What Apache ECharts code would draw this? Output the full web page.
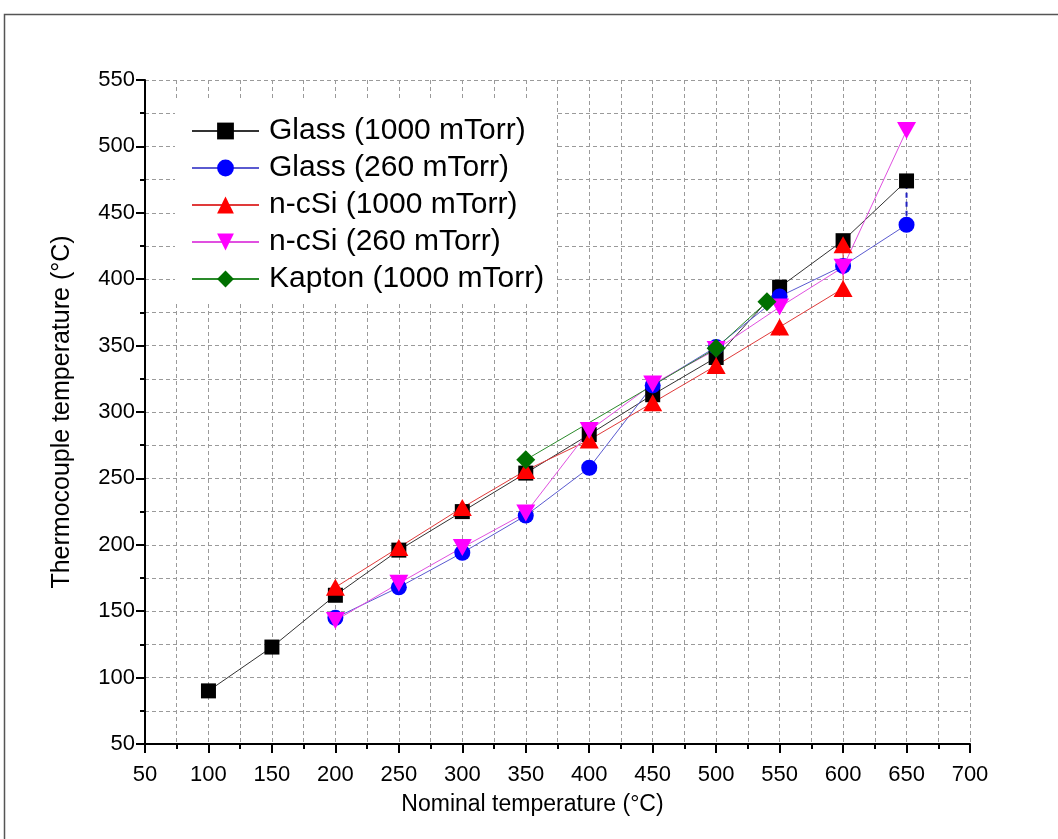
<!DOCTYPE html>
<html>
<head>
<meta charset="utf-8">
<script src="https://cdn.jsdelivr.net/npm/echarts@6/dist/echarts.min.js"></script>
<style>
  html, body { margin: 0; padding: 0; background: #fff; }
  #chart { width: 1058px; height: 839px; }
</style>
</head>
<body>
<div id="chart"></div>
<script>
// ---- Data ----
const glass1000X = [100, 150, 200, 250, 300, 350, 400, 450, 500, 550, 600, 650];
const glass1000Y = [90, 123, 162, 196, 225, 254, 283, 313, 341, 394, 429, 474];

const glass260X = [200, 250, 300, 350, 400, 450, 500, 550, 600, 650];
const glass260Y = [145, 168, 194, 222, 258, 320, 349, 387, 410, 441];
// short dashed connector drawn at 650 between the Glass (260) point and the Glass (1000) point
const glass260LinkX = [650, 650];
const glass260LinkY = [441, 474];

const ncsi1000X = [200, 250, 300, 350, 400, 450, 500, 550, 600, 600];
const ncsi1000Y = [168, 198, 228, 256, 279, 307, 335, 364, 393, 426];

const ncsi260X = [200, 250, 300, 350, 400, 450, 500, 550, 600, 650];
const ncsi260Y = [143, 171, 198, 224, 286, 321, 347, 379, 409, 512];

const kapton1000X = [350, 500, 540];
const kapton1000Y = [264, 348, 383];

const seriesNames = ['Glass (1000 mTorr)', 'Glass (260 mTorr)', 'n-cSi (1000 mTorr)', 'n-cSi (260 mTorr)', 'Kapton (1000 mTorr)'];
const xAxisTitle = 'Nominal temperature (\u00B0C)';
const yAxisTitle = 'Thermocouple temperature (\u00B0C)';

function pairs(xs, ys) { return xs.map((x, i) => [x, ys[i]]); }

const chart = echarts.init(document.getElementById('chart'), null, { renderer: 'canvas' });

const FONT = 'Liberation Sans, Arial, sans-serif';
const gridLine = { show: true, lineStyle: { color: '#9a9a9a', type: [4, 3], width: 1 } };
const axisFont = { fontFamily: FONT, fontSize: 22, color: '#000' };

const option = {
  backgroundColor: '#fff',
  animation: false,
  graphic: [{
    type: 'rect',
    shape: { x: 4.5, y: 14.5, width: 1200, height: 1000 },
    style: { fill: 'none', stroke: '#555', lineWidth: 1.5 },
    silent: true, z: 0
  }],
  grid: { left: 145, right: 88, top: 80, bottom: 95, containLabel: false },
  legend: {
    data: seriesNames,
    orient: 'vertical',
    left: 175,
    top: 100,
    padding: [16, 12, 10, 16],
    itemWidth: 67,
    itemHeight: 21,
    itemGap: 7,
    textStyle: { fontFamily: FONT, fontSize: 30, lineHeight: 25, color: '#000', padding: [2, 0, 0, 5] },
    backgroundColor: '#fff'
  },
  xAxis: {
    type: 'value', min: 50, max: 700, interval: 50,
    name: xAxisTitle, nameLocation: 'middle', nameGap: 49,
    nameTextStyle: { fontFamily: FONT, fontSize: 23, color: '#000', padding: [0, 50, 0, 0] },
    axisLine: { show: true, onZero: false, lineStyle: { color: '#000', width: 2 } },
    axisTick: { show: true, inside: false, length: 9, lineStyle: { color: '#000', width: 2 } },
    minorTick: { show: true, splitNumber: 2, length: 5, lineStyle: { color: '#000', width: 2 } },
    axisLabel: Object.assign({ margin: 20 }, axisFont),
    splitLine: gridLine,
    minorSplitLine: gridLine
  },
  yAxis: {
    type: 'value', min: 50, max: 550, interval: 50,
    name: yAxisTitle, nameLocation: 'middle', nameGap: 70, nameRotate: 90,
    nameTextStyle: { fontFamily: FONT, fontSize: 25, color: '#000' },
    axisLine: { show: true, onZero: false, lineStyle: { color: '#000', width: 2 } },
    axisTick: { show: true, inside: false, length: 9, lineStyle: { color: '#000', width: 2 } },
    minorTick: { show: true, splitNumber: 2, length: 5, lineStyle: { color: '#000', width: 2 } },
    axisLabel: Object.assign({ margin: 10 }, axisFont),
    splitLine: gridLine,
    minorSplitLine: gridLine
  },
  series: [
    {
      name: seriesNames[0], type: 'line', data: pairs(glass1000X, glass1000Y),
      symbol: 'rect', symbolSize: 15,
      itemStyle: { color: '#000' },
      lineStyle: { color: '#333', width: 1 }
    },
    {
      name: 'glass260link', type: 'line', data: pairs(glass260LinkX, glass260LinkY),
      symbol: 'none',
      lineStyle: { color: '#2020c0', width: 2, type: [5, 4] }
    },
    {
      name: seriesNames[1], type: 'line', data: pairs(glass260X, glass260Y),
      symbol: 'circle', symbolSize: 16,
      itemStyle: { color: '#0000ff' },
      lineStyle: { color: '#5a5ad0', width: 1 }
    },
    {
      name: seriesNames[2], type: 'line', data: pairs(ncsi1000X, ncsi1000Y),
      symbol: 'triangle', symbolSize: [19, 17],
      itemStyle: { color: '#ff0000' },
      lineStyle: { color: '#e03a3a', width: 1 }
    },
    {
      name: seriesNames[3], type: 'line', data: pairs(ncsi260X, ncsi260Y),
      symbol: 'triangle', symbolRotate: 180, symbolSize: [19, 17],
      itemStyle: { color: '#ff00ff' },
      lineStyle: { color: '#e050e0', width: 1 }
    },
    {
      name: seriesNames[4], type: 'line', data: pairs(kapton1000X, kapton1000Y),
      symbol: 'diamond', symbolSize: 19,
      itemStyle: { color: '#007000' },
      lineStyle: { color: '#2a8a2a', width: 1 }
    }
  ]
};

chart.setOption(option);
</script>
</body>
</html>
